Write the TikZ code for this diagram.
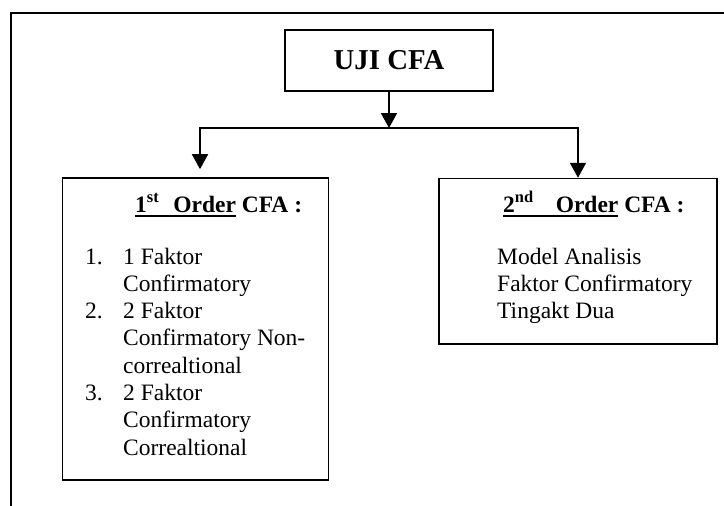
\documentclass[tikz,border=0pt]{standalone}
\usepackage{fontspec}
\setmainfont{Liberation Serif}
\usetikzlibrary{arrows.meta,positioning}
\newcommand{\orderline}[1]{\setbox0\hbox{#1}\rlap{\rule[-5.4pt]{\wd0}{2.2pt}}\box0\relax}
\tikzset{
    UJ1/.style ={rectangle,minimum width = 208pt, minimum height = 61pt, draw=black, line width=1.6pt, font=\fontsize{28.8}{32}\selectfont\bfseries},
    OR1/.style ={rectangle, draw=black, line width=1.6pt},
    TX1/.style ={anchor=base west, inner sep=0pt, font=\fontsize{23.5}{27.3}\selectfont},
    TX2/.style ={anchor=base west, inner sep=0pt, font=\fontsize{23.5}{27.3}\selectfont\bfseries},
    AR1/.style ={-{Triangle[width=16pt,length=15pt]}, line width=1.8pt}
}

\begin{document}
\begin{tikzpicture}[x=1pt,y=-1pt]
        \useasboundingbox (0,0) rectangle (724,506);
        % frame, only top and left sides
        \draw[line width=2pt] (11,510) -- (11,12.7) -- (730,12.7);
        \node[UJ1] (uji) at (389,60.5) {UJI CFA};
        \node[OR1, minimum width=266pt, minimum height=302pt] (first) at (195.6,329) {};
        \node[OR1, minimum width=278pt, minimum height=165.5pt] (second) at (578,261.3) {};
        \node[TX2] (firsthead) at (135,212) {\orderline{1\textsuperscript{st}\hspace{14pt}Order} CFA :};
        \node[TX2] (secondhead) at (503,212) {\orderline{2\textsuperscript{nd}\hspace{22pt}Order} CFA :};
        \node[TX1] (firstlist) at (85,264) {\begin{tabular}[t]{@{}p{38pt}@{}l@{}}
            1. & 1 Faktor\\
               & Confirmatory\\
            2. & 2 Faktor\\
               & Confirmatory Non-\\
               & correaltional\\
            3. & 2 Faktor\\
               & Confirmatory\\
               & Correaltional
            \end{tabular}};
        \node[TX1] (secondlist) at (497,264) {\begin{tabular}[t]{@{}l@{}}
            Model Analisis\\
            Faktor Confirmatory\\
            Tingakt Dua
            \end{tabular}};
        % arrows
        \coordinate (fork) at (389,128);
        \draw[AR1] (uji.south) -- (fork);
        \draw[AR1] (fork) -| ([xshift=4.4pt,yshift=8pt]first.north);
        \draw[AR1] (fork) -| (second.north);
\end{tikzpicture}
\end{document}
